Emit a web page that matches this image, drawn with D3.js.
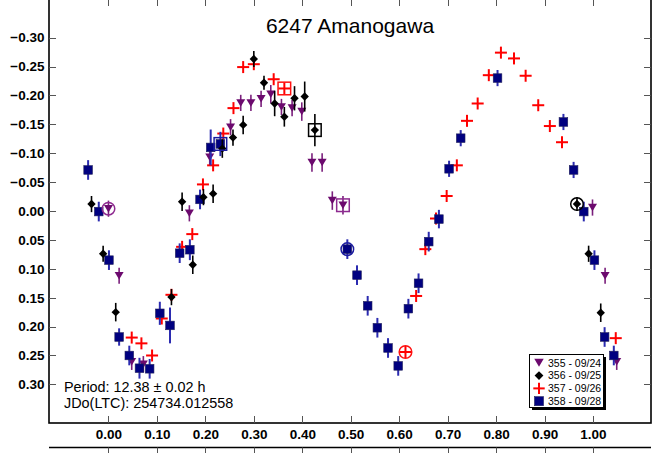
<!DOCTYPE html>
<html>
<head>
<meta charset="utf-8">
<script src="https://cdn.jsdelivr.net/npm/d3@7"></script>
<style>
  body { margin: 0; background: #fff; }
  svg { display: block; font-family: "Liberation Sans", Arial, sans-serif; }
</style>
</head>
<body>
<svg id="chart" width="658" height="453"></svg>
<script>
// ---- chart text ----
const title = "6247 Amanogawa";
const periodText = "Period: 12.38 \u00b1 0.02 h";
const epochText = "JDo(LTC): 254734.012558";

// ---- axis ticks ----
const xTicks = [0.00, 0.10, 0.20, 0.30, 0.40, 0.50, 0.60, 0.70, 0.80, 0.90, 1.00];
const yTicks = [-0.30, -0.25, -0.20, -0.15, -0.10, -0.05, 0.00, 0.05, 0.10, 0.15, 0.20, 0.25, 0.30];

// ---- sessions ----
const sessionNames = ["355 - 09/24", "356 - 09/25", "357 - 09/26", "358 - 09/28"];

// session 355 (09/24)
const phase355 = [0.000, 0.022, 0.048, 0.072, 0.167, 0.209, 0.252, 0.273, 0.294, 0.315, 0.335, 0.357, 0.379, 0.399, 0.420, 0.441, 0.462, 0.484, 0.999, 1.025, 1.049];
const mag355   = [-0.004, 0.112, 0.261, 0.265, 0.004, -0.093, -0.145, -0.187, -0.187, -0.194, -0.202, -0.180, -0.178, -0.172, -0.084, -0.084, -0.018, -0.010, -0.006, 0.112, 0.261];
const err355   = [0.014, 0.014, 0.014, 0.014, 0.014, 0.014, 0.014, 0.014, 0.014, 0.014, 0.016, 0.014, 0.014, 0.016, 0.016, 0.016, 0.016, 0.016, 0.014, 0.014, 0.014];

// session 356 (09/25)
const phase356 = [-0.035, -0.011, 0.015, 0.130, 0.152, 0.174, 0.196, 0.216, 0.235, 0.257, 0.278, 0.300, 0.321, 0.343, 0.363, 0.384, 0.405, 0.426, 0.967, 0.991, 1.016];
const mag356   = [-0.012, 0.074, 0.175, 0.149, -0.016, 0.093, -0.024, -0.030, -0.108, -0.127, -0.149, -0.263, -0.222, -0.186, -0.163, -0.195, -0.198, -0.140, -0.012, 0.074, 0.176];
const err356   = [0.014, 0.014, 0.016, 0.014, 0.016, 0.016, 0.014, 0.016, 0.016, 0.014, 0.016, 0.014, 0.012, 0.022, 0.017, 0.021, 0.026, 0.028, 0.012, 0.014, 0.016];

// session 357 (09/26)
const phase357 = [0.048, 0.068, 0.090, 0.110, 0.130, 0.152, 0.173, 0.195, 0.216, 0.237, 0.258, 0.278, 0.300, 0.341, 0.363, 0.613, 0.635, 0.654, 0.676, 0.698, 0.719, 0.740, 0.762, 0.785, 0.810, 0.837, 0.861, 0.887, 0.911, 0.936, 1.047];
const mag357   = [0.219, 0.229, 0.250, 0.186, 0.145, 0.062, 0.040, -0.046, -0.079, -0.134, -0.178, -0.249, -0.254, -0.228, -0.212, 0.244, 0.147, 0.066, 0.013, -0.026, -0.079, -0.156, -0.186, -0.235, -0.274, -0.264, -0.234, -0.183, -0.147, -0.119, 0.220];

// session 358 (09/28)
const phase358 = [-0.042, -0.020, 0.001, 0.022, 0.043, 0.064, 0.085, 0.106, 0.127, 0.147, 0.168, 0.189, 0.211, 0.231, 0.493, 0.513, 0.535, 0.555, 0.577, 0.598, 0.619, 0.640, 0.661, 0.682, 0.703, 0.727, 0.803, 0.939, 0.960, 0.981, 1.003, 1.024, 1.043];
const mag358   = [-0.071, 0.001, 0.085, 0.218, 0.250, 0.272, 0.273, 0.177, 0.198, 0.073, 0.067, -0.020, -0.110, -0.116, 0.066, 0.111, 0.164, 0.202, 0.237, 0.268, 0.169, 0.125, 0.053, 0.014, -0.073, -0.126, -0.230, -0.154, -0.071, 0.001, 0.085, 0.218, 0.250];
const err358   = [0.017, 0.017, 0.017, 0.015, 0.017, 0.018, 0.017, 0.020, 0.031, 0.017, 0.018, 0.017, 0.031, 0.021, 0.017, 0.017, 0.017, 0.017, 0.017, 0.017, 0.017, 0.017, 0.017, 0.016, 0.014, 0.014, 0.014, 0.014, 0.014, 0.017, 0.017, 0.017, 0.017];

// open rings / boxes marking the first observation of each session
const firstMarks = [
  { session: 0, index: 0,  shape: "circle" },
  { session: 0, index: 17, shape: "square" },
  { session: 1, index: 17, shape: "square" },
  { session: 1, index: 18, shape: "circle" },
  { session: 2, index: 14, shape: "square" },
  { session: 2, index: 15, shape: "circle" },
  { session: 3, index: 13, shape: "square" },
  { session: 3, index: 14, shape: "circle" }
];

// ---- styling per session ----
const styles = [
  { fill: "#6c0a6e", bar: "#7a1f7c", ring: "#8e2a90", symbol: "triangle" },
  { fill: "#000000", bar: "#000000", ring: "#000000", symbol: "diamond" },
  { fill: "#ff0000", bar: "#ff0000", ring: "#ff1010", symbol: "plus" },
  { fill: "#000080", bar: "#2b2bb0", ring: "#1c1ca0", symbol: "square" }
];

const sessions = [
  { phase: phase355, mag: mag355, err: err355 },
  { phase: phase356, mag: mag356, err: err356 },
  { phase: phase357, mag: mag357, err: null },
  { phase: phase358, mag: mag358, err: err358 }
];

// ---- layout ----
const frame = { left: 49, right: 651, top: -1, bottom: 423 };

const x = d3.scaleLinear().domain([-0.12273, 1.11974]).range([frame.left, frame.right]);
const y = d3.scaleLinear().domain([-0.3668, 0.3668]).range([frame.top, frame.bottom]);

const svg = d3.select("#chart");

// lower (next) panel edge with its ticks
const lower = svg.append("g");
lower.append("line")
  .attr("x1", frame.left).attr("x2", frame.right)
  .attr("y1", 447.5).attr("y2", 447.5)
  .attr("stroke", "#000").attr("stroke-width", 1.6);
lower.selectAll("line.t").data(xTicks).join("line").attr("class", "t")
  .attr("x1", d => Math.round(x(d)) + 0.5).attr("x2", d => Math.round(x(d)) + 0.5)
  .attr("y1", 447.5).attr("y2", 454)
  .attr("stroke", "#555").attr("stroke-width", 1);

// frame
svg.append("rect")
  .attr("x", frame.left).attr("y", frame.top)
  .attr("width", frame.right - frame.left).attr("height", frame.bottom - frame.top)
  .attr("fill", "none").attr("stroke", "#000").attr("stroke-width", 1.6);

// axes: ticks point inward, labels on left and bottom
const tickLen = 7;
const axisBottom = d3.axisBottom(x).tickValues(xTicks).tickSize(0).tickPadding(6)
  .tickFormat(d3.format(".2f"));
const gx = svg.append("g").attr("transform", `translate(0,${frame.bottom})`).call(axisBottom);
gx.select(".domain").remove();
gx.selectAll("text").attr("font-size", 13.5).attr("font-weight", "bold")
  .attr("font-family", "Liberation Sans, Arial, sans-serif").attr("fill", "#000");

const axisLeft = d3.axisLeft(y).tickValues(yTicks).tickSize(0).tickPadding(4)
  .tickFormat(d3.format(".2f"));
const gy = svg.append("g").attr("transform", `translate(${frame.left - 0.5},0)`).call(axisLeft);
gy.select(".domain").remove();
gy.selectAll("text").attr("font-size", 13.5).attr("font-weight", "bold")
  .attr("font-family", "Liberation Sans, Arial, sans-serif").attr("fill", "#000");

const ticks = svg.append("g").attr("stroke", "#555").attr("stroke-width", 1);
xTicks.forEach(v => {
  const px = Math.round(x(v)) + 0.5;
  ticks.append("line").attr("x1", px).attr("x2", px).attr("y1", frame.bottom).attr("y2", frame.bottom - tickLen);
  ticks.append("line").attr("x1", px).attr("x2", px).attr("y1", frame.top).attr("y2", frame.top + tickLen);
});
yTicks.forEach(v => {
  const py = Math.round(y(v)) + 0.5;
  ticks.append("line").attr("x1", frame.left).attr("x2", frame.left + tickLen).attr("y1", py).attr("y2", py);
  ticks.append("line").attr("x1", frame.right).attr("x2", frame.right - tickLen).attr("y1", py).attr("y2", py);
});

// title
svg.append("text").attr("x", (frame.left + frame.right) / 2).attr("y", 33)
  .attr("text-anchor", "middle").attr("font-size", 21).attr("fill", "#000").text(title);

// period / epoch note
svg.append("text").attr("x", 64).attr("y", 392).attr("font-size", 14.4).attr("fill", "#000").text(periodText);
svg.append("text").attr("x", 64).attr("y", 408).attr("font-size", 14.4).attr("fill", "#000").text(epochText);

// ---- symbols ----
function drawSymbol(g, kind, cx, cy, st, scale) {
  const s = scale || 1;
  if (kind === "triangle") {
    const w = 4.5 * s, h = 7.5 * s;
    g.append("path").attr("d", `M${cx - w},${cy - h / 2}L${cx + w},${cy - h / 2}L${cx},${cy + h / 2}Z`)
      .attr("fill", st.fill);
  } else if (kind === "diamond") {
    const r = 4.2 * s;
    g.append("path").attr("d", `M${cx},${cy - r}L${cx + r},${cy}L${cx},${cy + r}L${cx - r},${cy}Z`)
      .attr("fill", st.fill);
  } else if (kind === "plus") {
    const r = 6 * s;
    g.append("line").attr("x1", cx - r).attr("x2", cx + r).attr("y1", cy).attr("y2", cy)
      .attr("stroke", st.fill).attr("stroke-width", 2);
    g.append("line").attr("x1", cx).attr("x2", cx).attr("y1", cy - r).attr("y2", cy + r)
      .attr("stroke", st.fill).attr("stroke-width", 2);
  } else if (kind === "square") {
    const r = 4.3 * s;
    g.append("rect").attr("x", cx - r).attr("y", cy - r).attr("width", 2 * r).attr("height", 2 * r)
      .attr("fill", st.fill).attr("stroke", "#20205a").attr("stroke-width", 0.6);
  }
}

// ---- data points, with error bars ----
const drawOrder = [0, 2, 3, 1];
drawOrder.forEach(si => {
  const ses = sessions[si], st = styles[si];
  const g = svg.append("g");
  ses.phase.forEach((p, i) => {
    const cx = x(p), cy = y(ses.mag[i]);
    if (ses.err) {
      g.append("line").attr("x1", cx).attr("x2", cx)
        .attr("y1", y(ses.mag[i] - ses.err[i])).attr("y2", y(ses.mag[i] + ses.err[i]))
        .attr("stroke", st.bar).attr("stroke-width", si === 3 ? 2 : 1.6);
    }
    drawSymbol(g, st.symbol, cx, cy, st, 1);
  });
});

// first-observation markers
firstMarks.forEach(m => {
  const ses = sessions[m.session], st = styles[m.session];
  const cx = x(ses.phase[m.index]), cy = y(ses.mag[m.index]);
  if (m.shape === "circle") {
    svg.append("circle").attr("cx", cx).attr("cy", cy).attr("r", 6.3)
      .attr("fill", "none").attr("stroke", st.ring).attr("stroke-width", 1.5);
  } else {
    svg.append("rect").attr("x", cx - 6.3).attr("y", cy - 6.3).attr("width", 12.6).attr("height", 12.6)
      .attr("fill", "none").attr("stroke", st.ring).attr("stroke-width", 1.5);
  }
});

// ---- legend ----
const lg = svg.append("g");
const lb = { x: 529.5, y: 354.5, w: 74, h: 53 };
lg.append("rect").attr("x", lb.x + 2.5).attr("y", lb.y + 2.5).attr("width", lb.w).attr("height", lb.h).attr("fill", "#000");
lg.append("rect").attr("x", lb.x).attr("y", lb.y).attr("width", lb.w).attr("height", lb.h)
  .attr("fill", "#fff").attr("stroke", "#000").attr("stroke-width", 1);
sessionNames.forEach((name, i) => {
  const cy = 362.8 + i * 12.8;
  drawSymbol(lg, styles[i].symbol, 539, cy, styles[i], i === 2 ? 0.95 : 1.05);
  lg.append("text").attr("x", 548).attr("y", cy + 3.8).attr("font-size", 10.5).attr("fill", "#000").text(name);
});
</script>
</body>
</html>
